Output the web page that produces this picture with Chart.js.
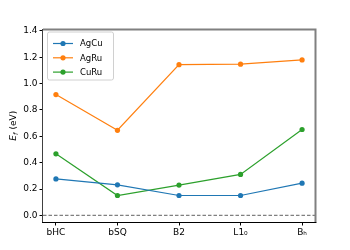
<!DOCTYPE html>
<html><head><meta charset="utf-8">
<script src="https://cdn.jsdelivr.net/npm/chart.js@4/dist/chart.umd.min.js"></script>
<style>html,body{margin:0;padding:0;background:#fff}#wrap{width:350px;height:250px}</style>
</head><body><div id="wrap"><canvas id="c" width="350" height="250"></canvas></div>
<script>
const categories = ["bHC", "bSQ", "B2", "L1\u2080", "B\u2095"];
const seriesNames = ["AgCu", "AgRu", "CuRu"];
const agCu = [0.277, 0.232, 0.151, 0.151, 0.245];
const agRu = [0.917, 0.646, 1.144, 1.148, 1.180];
const cuRu = [0.467, 0.151, 0.230, 0.311, 0.652];
const yTicks = [0.0, 0.2, 0.4, 0.6, 0.8, 1.0, 1.2, 1.4];
const colors = ["#1f77b4", "#ff7f0e", "#2ca02c"];
const FONT = "DejaVu Sans";

const allSeries = [agCu, agRu, cuRu];
const datasets = allSeries.map((vals, i) => ({
  label: seriesNames[i],
  data: vals.map((v, j) => ({x: j, y: v})),
  borderColor: colors[i],
  backgroundColor: colors[i],
  borderWidth: 1.2,
  pointRadius: 2.6,
  pointHoverRadius: 2.6,
  pointBorderWidth: 0,
  tension: 0
}));

const extras = {
  id: 'extras',
  beforeDatasetsDraw(chart) {
    const {ctx, chartArea: a, scales: {y}} = chart;
    const y0 = y.getPixelForValue(0);
    ctx.save();
    ctx.strokeStyle = '#808080';
    ctx.lineWidth = 1.2;
    ctx.setLineDash([3.5, 2]);
    ctx.beginPath(); ctx.moveTo(a.left, y0); ctx.lineTo(a.right, y0); ctx.stroke();
    ctx.restore();
  },
  afterDraw(chart) {
    const {ctx, chartArea: a} = chart;
    ctx.save();
    // top/right spines (gray, thicker)
    ctx.strokeStyle = '#808080';
    ctx.lineWidth = 2;
    ctx.beginPath(); ctx.moveTo(a.left, a.top - 0.5); ctx.lineTo(a.right + 0.5, a.top - 0.5); ctx.lineTo(a.right + 0.5, a.bottom); ctx.stroke();
    // left spine
    ctx.strokeStyle = '#404040';
    ctx.lineWidth = 1;
    ctx.beginPath(); ctx.moveTo(a.left - 0.5, a.top - 1); ctx.lineTo(a.left - 0.5, a.bottom); ctx.stroke();
    // bottom spine
    ctx.strokeStyle = '#000';
    ctx.beginPath(); ctx.moveTo(a.left - 1, a.bottom + 0.5); ctx.lineTo(a.right + 1.5, a.bottom + 0.5); ctx.stroke();

    // legend
    const bx = 47, by = 31.5, bw = 66, bh = 48;
    ctx.fillStyle = 'rgba(255,255,255,0.8)';
    ctx.strokeStyle = '#d0d0d0';
    ctx.lineWidth = 1;
    ctx.beginPath();
    ctx.roundRect(bx + 0.5, by + 0.5, bw, bh, 2);
    ctx.fill(); ctx.stroke();
    chart.data.datasets.forEach((ds, i) => {
      const ly = 43.5 + i * 14.3;
      ctx.strokeStyle = ds.borderColor;
      ctx.lineWidth = 1.2;
      ctx.beginPath(); ctx.moveTo(53, ly); ctx.lineTo(73, ly); ctx.stroke();
      ctx.fillStyle = ds.borderColor;
      ctx.beginPath(); ctx.arc(63, ly, 2.6, 0, Math.PI * 2); ctx.fill();
      ctx.fillStyle = '#000';
      ctx.font = '8.5px "' + FONT + '"';
      ctx.textBaseline = 'middle';
      ctx.textAlign = 'left';
      ctx.fillText(ds.label, 80, ly + 0.5);
    });

    // y axis title: E_f (eV)
    const cx = 13, cy = (a.top + a.bottom) / 2;
    ctx.translate(cx, cy);
    ctx.rotate(-Math.PI / 2);
    ctx.fillStyle = '#000';
    ctx.textBaseline = 'alphabetic';
    const f1 = 'italic 9px "' + FONT + '"', f2 = 'italic 6.5px "' + FONT + '"', f3 = '9px "' + FONT + '"';
    ctx.font = f1; const wE = ctx.measureText('E').width;
    ctx.font = f2; const wf = ctx.measureText('f').width;
    ctx.font = f3; const wr = ctx.measureText(' (eV)').width;
    let x = -(wE + wf + wr) / 2;
    const base = 3;
    ctx.font = f1; ctx.fillText('E', x, base); x += wE;
    ctx.font = f2; ctx.fillText('f', x, base + 2); x += wf + 0.5;
    ctx.font = f3; ctx.fillText(' (eV)', x, base);
    ctx.restore();
  }
};

new Chart(document.getElementById('c'), {
  type: 'line',
  data: {datasets},
  options: {
    responsive: false,
    animation: false,
    events: [],
    layout: {padding: {left: 0, top: 30, right: 35, bottom: 0}},
    plugins: {legend: {display: false}, tooltip: {enabled: false}},
    scales: {
      x: {
        type: 'linear',
        min: -0.21, max: 4.21,
        afterBuildTicks(s) { s.ticks = categories.map((c, i) => ({value: i})); },
        afterFit(s) { s.height = 28; },
        ticks: {
          callback: (v) => categories[v] ?? '',
          color: '#000', font: {family: FONT, size: 9}, padding: 2, maxRotation: 0, autoSkip: false
        },
        grid: {display: true, drawOnChartArea: false, drawTicks: true, tickLength: 3.5, color: '#000', tickColor: '#000'},
        border: {display: false}
      },
      y: {
        min: -0.05, max: 1.407,
        afterBuildTicks(s) { s.ticks = yTicks.map(v => ({value: v})); },
        afterFit(s) { s.width = 43; },
        ticks: {
          callback: (v) => Number(v).toFixed(1),
          color: '#000', font: {family: FONT, size: 9}, padding: 2
        },
        grid: {display: true, drawOnChartArea: false, drawTicks: true, tickLength: 3.5, color: '#000', tickColor: '#000'},
        border: {display: false}
      }
    }
  },
  plugins: [extras]
});
</script>
</body></html>
